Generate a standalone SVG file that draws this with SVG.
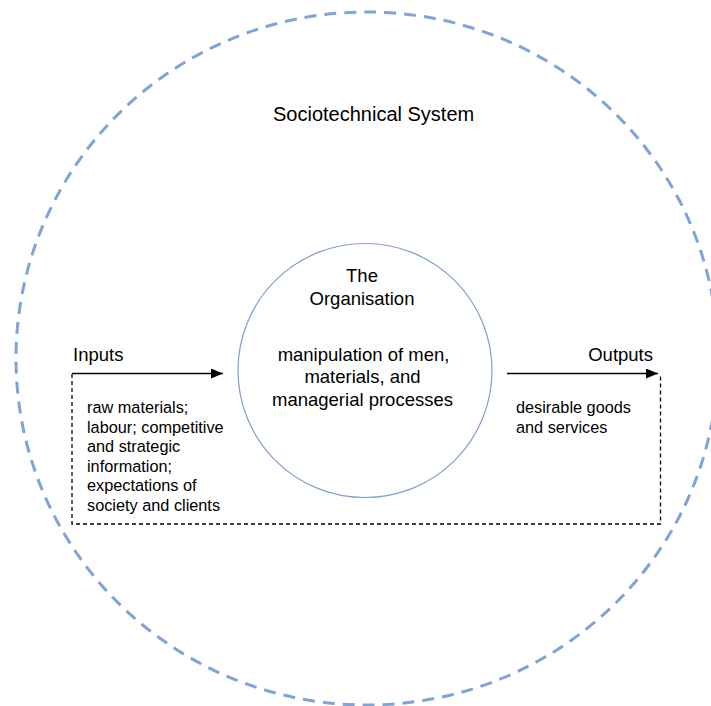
<svg xmlns="http://www.w3.org/2000/svg" width="711" height="706" viewBox="0 0 711 706">
<style>
text{font-family:"Liberation Sans",Arial,Helvetica,sans-serif;fill:#000}
.t18{font-size:18.5px}
.t16{font-size:16.3px}
.t20{font-size:20px}
.mid{text-anchor:middle}
.end{text-anchor:end}
.boundary{fill:none;stroke:#7EA5D6;stroke-width:3;stroke-dasharray:12 8}
.org{fill:#fff;stroke:#7F9FD2;stroke-width:1.2}
.flow{fill:none;stroke:#000;stroke-width:1.4}
.dash{fill:none;stroke:#000;stroke-width:1.3;stroke-dasharray:4 3}
</style>
<defs>
<marker id="arr" viewBox="0 0 12 10" refX="12" refY="5" markerWidth="12" markerHeight="10" markerUnits="userSpaceOnUse" orient="auto">
<path d="M0,0 L12,5 L0,10 Z" fill="#000"/>
</marker>
</defs>
<rect width="711" height="706" fill="#fff"/>
<g id="sociotechnical-system">
<ellipse class="boundary" cx="367" cy="358.5" rx="351" ry="346.5"/>
<text class="t20" x="273" y="121">Sociotechnical System</text>
</g>
<g id="organisation">
<circle class="org" cx="365" cy="370.5" r="127"/>
<text class="t18 mid" x="362" y="282">The</text>
<text class="t18 mid" x="362" y="305">Organisation</text>
<text class="t18 mid" x="363.5" y="360.5">manipulation of men,</text>
<text class="t18 mid" x="362.5" y="383">materials, and</text>
<text class="t18 mid" x="362.5" y="405.5">managerial processes</text>
</g>
<g id="inputs">
<text class="t18" x="73" y="360.5">Inputs</text>
<text class="t16" x="87" y="413">raw materials;</text>
<text class="t16" x="87" y="432.5">labour; competitive</text>
<text class="t16" x="87" y="452">and strategic</text>
<text class="t16" x="87" y="471.5">information;</text>
<text class="t16" x="87" y="491">expectations of</text>
<text class="t16" x="87" y="510.5">society and clients</text>
</g>
<g id="outputs">
<text class="t18 end" x="653" y="360.5">Outputs</text>
<text class="t16" x="516" y="413">desirable goods</text>
<text class="t16" x="516" y="432.5">and services</text>
</g>
<g id="connectors">
<line class="flow" x1="72" y1="373.5" x2="223" y2="373.5" marker-end="url(#arr)"/>
<line class="flow" x1="507" y1="373.5" x2="658" y2="373.5" marker-end="url(#arr)"/>
<path class="dash" d="M72,374 V524 H660.5 V374"/>
</g>
</svg>
